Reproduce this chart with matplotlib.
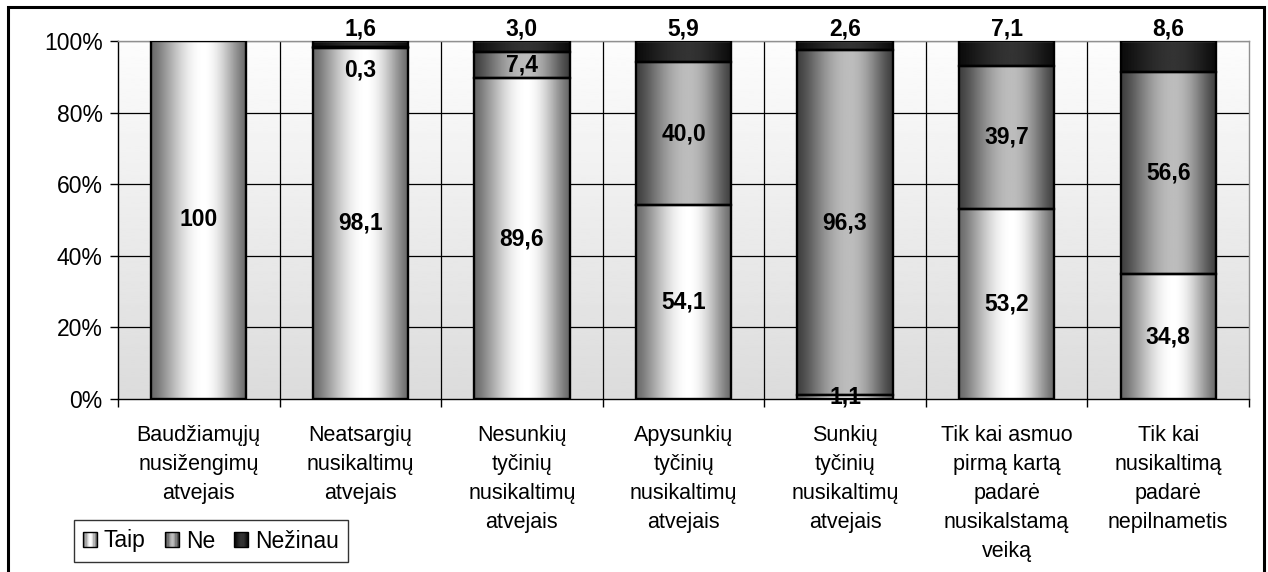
import numpy as np
import matplotlib
matplotlib.use("Agg")
import matplotlib.pyplot as plt
from matplotlib.patches import Rectangle
from matplotlib.legend_handler import HandlerBase

plt.rcParams['font.family'] = ['Liberation Sans', 'DejaVu Sans']

categories = [
    "Baudžiamųjų\nnusižengimų\natvejais",
    "Neatsargių\nnusikaltimų\natvejais",
    "Nesunkių\ntyčinių\nnusikaltimų\natvejais",
    "Apysunkių\ntyčinių\nnusikaltimų\natvejais",
    "Sunkių\ntyčinių\nnusikaltimų\natvejais",
    "Tik kai asmuo\npirmą kartą\npadarė\nnusikalstamą\nveiką",
    "Tik kai\nnusikaltimą\npadarė\nnepilnametis",
]
series_names = ["Taip", "Ne", "Nežinau"]
taip = [100, 98.1, 89.6, 54.1, 1.1, 53.2, 34.8]
ne = [0, 0.3, 7.4, 40.0, 96.3, 39.7, 56.6]
nezinau = [0, 1.6, 3.0, 5.9, 2.6, 7.1, 8.6]
yticks = [0, 20, 40, 60, 80, 100]
ytick_labels = ["0%", "20%", "40%", "60%", "80%", "100%"]

W, H = 1268, 572
fig = plt.figure(figsize=(W / 100, H / 100), dpi=100)
fig.patch.set_facecolor("white")

ax = fig.add_axes([118 / W, 1 - 399 / H, (1249 - 118) / W, (399 - 41) / H])
n = len(categories)
ax.set_xlim(-0.5, n - 0.5)
ax.set_ylim(0, 100)

# background vertical gradient
bg = np.linspace(0.86, 0.99, 256).reshape(-1, 1)
ax.imshow(bg, extent=(-0.5, n - 0.5, 0, 100), origin="lower", aspect="auto",
          cmap="gray", vmin=0, vmax=1, zorder=0, interpolation="bilinear")

# gridlines
for y in yticks[1:-1]:
    ax.axhline(y, color="black", lw=0.9, zorder=1)
ax.axhline(100, color="#909090", lw=1.0, zorder=1)
for b in np.arange(0.5, n - 0.5, 1):
    ax.axvline(b, color="black", lw=0.9, zorder=1)


def profile(lo, hi, m=64):
    t = np.linspace(0, 1, m)
    c = 0.55
    d = np.where(t < c, (c - t) / c, (t - c) / (1 - c))
    d = np.clip(d, 0, 1)
    v = lo + (hi - lo) * np.cos(d * np.pi / 2) ** 1.3
    return v


grad = {
    "Taip": (0.42, 1.0),
    "Ne": (0.25, 0.74),
    "Nežinau": (0.05, 0.20),
}

bw = 0.59
values = [taip, ne, nezinau]
for i in range(n):
    bottom = 0
    for name, vals in zip(series_names, values):
        v = vals[i]
        if v <= 0:
            continue
        lo, hi = grad[name]
        prof = profile(lo, hi).reshape(1, -1)
        ax.imshow(prof, extent=(i - bw / 2, i + bw / 2, bottom, bottom + v),
                  aspect="auto", cmap="gray", vmin=0, vmax=1, zorder=2,
                  interpolation="bilinear")
        ax.add_patch(Rectangle((i - bw / 2, bottom), bw, v, fill=False,
                               edgecolor="black", lw=1.7, zorder=3))
        bottom += v


def fmt(v):
    if v == 100:
        return "100"
    return f"{v:.1f}".replace(".", ",")


lab_kw = dict(ha="center", va="center", fontsize=16.5, fontweight="bold",
              color="black", zorder=5, clip_on=False)
for i in range(n):
    if taip[i] > 0:
        ax.text(i, taip[i] / 2, fmt(taip[i]), **lab_kw)
    if ne[i] > 0:
        y = taip[i] + ne[i] / 2
        if ne[i] < 1:
            y = 92.0
        ax.text(i, y, fmt(ne[i]), **lab_kw)
    if nezinau[i] > 0:
        ax.text(i, 103.4, fmt(nezinau[i]), **lab_kw)

# axes styling
ax.set_yticks(yticks)
ax.set_yticklabels(ytick_labels, fontsize=16.5)
ax.tick_params(axis="y", direction="out", length=6, width=1, pad=5, color="black")
ax.set_xticks(range(n))
ax.set_xticklabels(categories, fontsize=15.5, linespacing=1.5)
ax.tick_params(axis="x", which="major", length=0, pad=19)
ax.set_xticks(np.arange(-0.5, n, 1), minor=True)
ax.tick_params(axis="x", which="minor", length=6, width=1, color="black")
for s in ["left", "bottom"]:
    ax.spines[s].set_color("black")
    ax.spines[s].set_linewidth(1.0)
for s in ["top", "right"]:
    ax.spines[s].set_color("#909090")
    ax.spines[s].set_linewidth(1.0)


class GradHandler(HandlerBase):
    def __init__(self, lo, hi):
        super().__init__()
        self.lo, self.hi = lo, hi

    def create_artists(self, legend, orig_handle, xdescent, ydescent, width,
                       height, fontsize, trans):
        arts = []
        m = 12
        prof = profile(self.lo, self.hi, m)
        for k in range(m):
            g = prof[k]
            arts.append(Rectangle((-xdescent + k * width / m, -ydescent),
                                  width / m, height, facecolor=(g, g, g),
                                  edgecolor="none", transform=trans))
        arts.append(Rectangle((-xdescent, -ydescent), width, height,
                              fill=False, edgecolor="black", lw=1.0,
                              transform=trans))
        return arts


handles = [Rectangle((0, 0), 1, 1) for _ in series_names]
hmap = {h: GradHandler(*grad[nm]) for h, nm in zip(handles, series_names)}
leg = fig.legend(handles, series_names, handler_map=hmap, ncol=3,
                 loc="center", bbox_to_anchor=(211 / W, 1 - 541 / H),
                 fontsize=16.5, frameon=True, fancybox=False, edgecolor="black",
                 handlelength=0.6, handleheight=0.6, handletextpad=0.3,
                 columnspacing=0.85, borderpad=0.4, borderaxespad=0)
leg.get_frame().set_linewidth(1.0)

# outer chart border
fig.patches.append(Rectangle((8 / W, -0.05), (1264 - 8) / W, 1 - 7 / H + 0.05,
                             transform=fig.transFigure, fill=False,
                             edgecolor="black", lw=2.2, zorder=10))

fig.savefig("out.png", dpi=100, facecolor="white")
